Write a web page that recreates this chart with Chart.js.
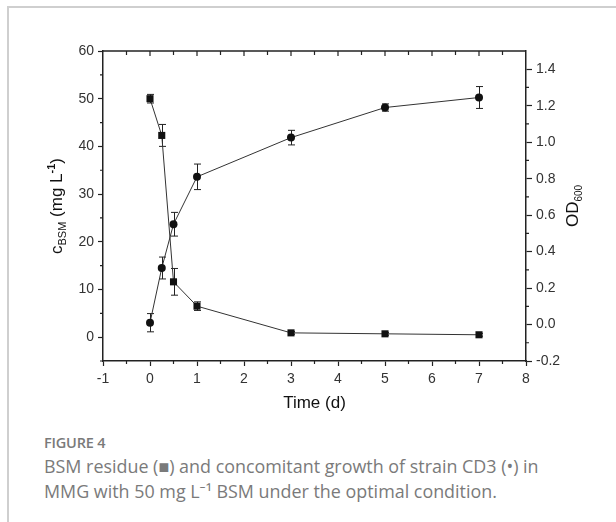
<!DOCTYPE html>
<html>
<head>
<meta charset="utf-8">
<script src="https://cdn.jsdelivr.net/npm/chart.js@4.4.0/dist/chart.umd.min.js"></script>
<style>
  body { margin: 0; background: #fff; width: 616px; height: 522px; overflow: hidden; position: relative; font-family: "Open Sans", "Noto Sans", sans-serif; }
  .card { position: absolute; left: 7px; top: 6px; width: 700px; height: 600px; border-top: 2px solid #cfcfcf; border-left: 2px solid #cfcfcf; }
  #chart { position: absolute; left: 0; top: 0; }
  .fig { position: absolute; left: 44px; top: 433px; font-size: 14.5px; font-weight: 600; color: #7a7a7a; letter-spacing: -0.2px; }
  .cap { position: absolute; left: 44px; top: 454px; font-size: 17.9px; line-height: 25px; color: #7a7a7a; white-space: nowrap; }
</style>
</head>
<body>
<div class="card"></div>
<canvas id="chart" width="616" height="420"></canvas>
<div class="fig">FIGURE 4</div>
<div class="cap">BSM residue (■) and concomitant growth of strain CD3 (•) in<br>MMG with 50 mg L⁻¹ BSM under the optimal condition.</div>

<script>
// sampling times (d)
const timeDays = [0, 0.25, 0.5, 1, 3, 5, 7];
// BSM residue, mg/L (squares, left axis)
const bsmResidue = [50.0, 42.3, 11.6, 6.5, 0.9, 0.7, 0.5];
const bsmError = [0.9, 2.3, 2.8, 0.9, 0.3, 0.3, 0.3];
// OD600 growth (circles, right axis)
const od600 = [0.01, 0.31, 0.55, 0.81, 1.025, 1.19, 1.245];
const odError = [0.05, 0.06, 0.065, 0.07, 0.04, 0.02, 0.06];

// tick labels
const xTicks = [-1, 0, 1, 2, 3, 4, 5, 6, 7, 8];
const leftTicks = [0, 10, 20, 30, 40, 50, 60];
const rightTicks = [-0.2, 0, 0.2, 0.4, 0.6, 0.8, 1.0, 1.2, 1.4];

const axisColor = '#222';
const tickFont = { family: '"Liberation Sans", Arial', size: 14 };

// --- error bars, minor ticks, top frame, axis titles ---
const extras = {
  id: 'extras',
  beforeDatasetsDraw(chart) {
    const { ctx, scales: { x, y, y1 } } = chart;
    ctx.save();
    ctx.strokeStyle = '#222';
    ctx.lineWidth = 1;
    const bars = (vals, errs, sc) => {
      vals.forEach((v, i) => {
        const px = Math.round(x.getPixelForValue(timeDays[i])) + 0.5;
        const top = sc.getPixelForValue(v + errs[i]);
        const bot = sc.getPixelForValue(v - errs[i]);
        ctx.beginPath();
        ctx.moveTo(px, top); ctx.lineTo(px, bot);
        ctx.moveTo(px - 3.5, top); ctx.lineTo(px + 3.5, top);
        ctx.moveTo(px - 3.5, bot); ctx.lineTo(px + 3.5, bot);
        ctx.stroke();
      });
    };
    bars(bsmResidue, bsmError, y);
    bars(od600, odError, y1);
    ctx.restore();
  },
  afterDraw(chart) {
    const { ctx, chartArea: a, scales: { x, y, y1 } } = chart;
    ctx.save();
    ctx.strokeStyle = axisColor;
    ctx.lineWidth = 1.5;
    ctx.beginPath();
    ctx.moveTo(a.left, a.top); ctx.lineTo(a.right, a.top);
    ctx.stroke();

    ctx.lineWidth = 1.2;
    ctx.beginPath();
    // top axis ticks, pointing inward
    for (let v = -0.5; v < 8; v += 0.5) {
      const px = x.getPixelForValue(v);
      const len = Number.isInteger(v) ? 5 : 4;
      ctx.moveTo(px, a.top); ctx.lineTo(px, a.top + len);
    }
    // bottom minor ticks
    for (let v = -0.5; v < 8; v += 1) {
      const px = x.getPixelForValue(v);
      ctx.moveTo(px, a.bottom); ctx.lineTo(px, a.bottom + 3);
    }
    // left minor ticks
    for (let v = -5; v < 60; v += 10) {
      const py = y.getPixelForValue(v);
      ctx.moveTo(a.left, py); ctx.lineTo(a.left - 3, py);
    }
    // right minor ticks
    for (let v = -0.1; v < 1.45; v += 0.2) {
      const py = y1.getPixelForValue(v);
      ctx.moveTo(a.right, py); ctx.lineTo(a.right + 3, py);
    }
    ctx.stroke();

    // axis titles
    ctx.fillStyle = '#111';
    ctx.textBaseline = 'alphabetic';
    const big = '17px "Liberation Sans"';
    const small = '11px "Liberation Sans"';
    const drawRich = (parts, cx, cy) => {
      let total = 0;
      parts.forEach(p => { ctx.font = p.font; total += ctx.measureText(p.t).width; });
      ctx.save();
      ctx.translate(cx, cy);
      ctx.rotate(-Math.PI / 2);
      let xx = -total / 2;
      parts.forEach(p => {
        ctx.font = p.font;
        ctx.fillText(p.t, xx, 6 + (p.dy || 0));
        xx += ctx.measureText(p.t).width;
      });
      ctx.restore();
    };
    drawRich([
      { t: 'c', font: big },
      { t: 'BSM', font: small, dy: 4 },
      { t: ' (mg L', font: big },
      { t: '-1', font: 'bold ' + small, dy: -7 },
      { t: ')', font: big }
    ], 56, (a.top + a.bottom) / 2);
    drawRich([
      { t: 'OD', font: big },
      { t: '600', font: '10px "Liberation Sans"', dy: 4 }
    ], 572, (a.top + a.bottom) / 2);

    ctx.font = big;
    ctx.textAlign = 'center';
    ctx.fillText('Time (d)', (a.left + a.right) / 2, 408);
    ctx.restore();
  }
};

new Chart(document.getElementById('chart'), {
  type: 'scatter',
  data: {
    datasets: [
      {
        label: 'BSM residue',
        data: timeDays.map((t, i) => ({ x: t, y: bsmResidue[i] })),
        yAxisID: 'y',
        showLine: true,
        borderColor: '#333',
        borderWidth: 1,
        pointStyle: 'rect',
        pointRadius: 5,
        pointBackgroundColor: '#111',
        pointBorderColor: '#111',
        pointBorderWidth: 0
      },
      {
        label: 'OD600',
        data: timeDays.map((t, i) => ({ x: t, y: od600[i] })),
        yAxisID: 'y1',
        showLine: true,
        borderColor: '#333',
        borderWidth: 1,
        pointStyle: 'circle',
        pointRadius: 4,
        pointBackgroundColor: '#111',
        pointBorderColor: '#111',
        pointBorderWidth: 0
      }
    ]
  },
  options: {
    responsive: false,
    animation: false,
    layout: { padding: { top: 51, left: 0, right: 0, bottom: 0 } },
    plugins: { legend: { display: false }, tooltip: { enabled: false } },
    scales: {
      x: {
        type: 'linear', position: 'bottom', min: -1, max: 8,
        afterBuildTicks: s => { s.ticks = xTicks.map(v => ({ value: v })); },
        afterFit: s => { s.height = 59; },
        grid: { drawOnChartArea: false, drawTicks: true, tickLength: 5, tickColor: axisColor, tickWidth: 1.2 },
        border: { display: true, color: axisColor, width: 1.5 },
        ticks: { color: '#333', font: tickFont, padding: 5, maxRotation: 0, autoSkip: false }
      },
      y: {
        type: 'linear', position: 'left', min: -5, max: 60,
        afterBuildTicks: s => { s.ticks = leftTicks.map(v => ({ value: v })); },
        afterFit: s => { s.width = 103; },
        grid: { drawOnChartArea: false, drawTicks: true, tickLength: 5, tickColor: axisColor, tickWidth: 1.2 },
        border: { display: true, color: axisColor, width: 1.5 },
        ticks: { color: '#333', font: tickFont, padding: 4 }
      },
      y1: {
        type: 'linear', position: 'right', min: -0.2, max: 1.5,
        afterBuildTicks: s => { s.ticks = rightTicks.map(v => ({ value: v })); },
        afterFit: s => { s.width = 90; },
        grid: { drawOnChartArea: false, drawTicks: true, tickLength: 6, tickColor: axisColor, tickWidth: 1.2 },
        border: { display: true, color: axisColor, width: 1.5 },
        ticks: { color: '#333', font: tickFont, padding: 4, callback: v => v.toFixed(1) }
      }
    }
  },
  plugins: [extras]
});
</script>
</body>
</html>
